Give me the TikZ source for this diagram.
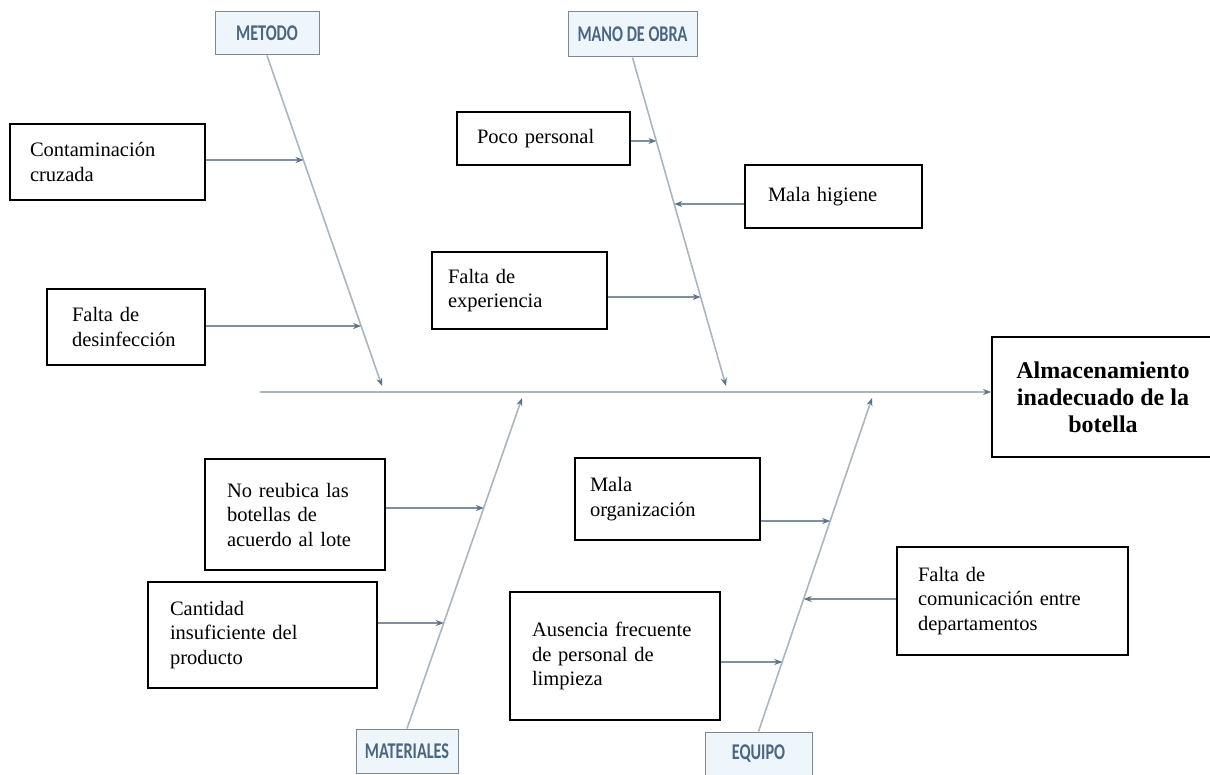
\documentclass[tikz,border=0pt]{standalone}
\usepackage{fontspec}
\setmainfont{Liberation Serif}
\newfontfamily\catfont[FakeStretch=0.72]{Carlito}
\usetikzlibrary{arrows.meta}
\definecolor{bone}{HTML}{A9B6C2}
\definecolor{causeln}{HTML}{7E90A0}
\definecolor{tipc}{HTML}{5A7388}
\definecolor{cattext}{HTML}{4A6680}
\definecolor{catborder}{HTML}{7F8890}
\definecolor{catfill}{HTML}{EEF5FB}
\begin{document}
\begin{tikzpicture}[x=1pt,y=-1pt,
  causebox/.style={draw=black, line width=1.8pt, align=left, inner ysep=0pt,
    font=\fontsize{20.5}{24.5}\selectfont},
  catbox/.style={draw=catborder, fill=catfill, line width=1pt, inner sep=0pt,
    font=\catfont\bfseries\fontsize{22.5}{24}\selectfont, text=cattext},
  effectbox/.style={draw=black, line width=1.8pt, align=center, inner sep=0pt,
    font=\bfseries\fontsize{24}{27}\selectfont},
  bonel/.style={draw=bone, line width=1.6pt, -{Stealth[length=8pt,width=6pt,color=tipc]}},
  causel/.style={draw=causeln, line width=1.6pt, -{Stealth[length=8pt,width=6pt,color=tipc]}},
]
\useasboundingbox (0,0) rectangle (1210,775);

% category boxes
\node[catbox, minimum width=104pt, minimum height=43pt] (metodo) at (267,33.5) {METODO};
\node[catbox, minimum width=129pt, minimum height=45pt] (mano) at (632.5,34.5) {MANO DE OBRA};
\node[catbox, minimum width=102pt, minimum height=44pt] (materiales) at (407,751) {MATERIALES};
\node[catbox, minimum width=107pt, minimum height=43pt] (equipo) at (758.5,753.5) {EQUIPO};

% effect
\node[effectbox, minimum width=222pt, minimum height=120pt] (effect) at (1103,397)
  {Almacenamiento\\inadecuado de la\\botella};

% bone tips
\coordinate (mt) at (382,386);
\coordinate (mat) at (726,386);
\coordinate (matt) at (522,398);
\coordinate (eqt) at (872,398);
\coordinate (sp) at (260,392);

% spine and bones
\draw[bonel] (sp) -- (effect.west |- sp);
\draw[bonel] (metodo.south) -- (mt);
\draw[bonel] (mano.south) -- (mat);
\draw[bonel] (materiales.north) -- (matt);
\draw[bonel] (equipo.north) -- (eqt);

% cause boxes
\node[causebox, inner xsep=20pt, text width=155pt, minimum height=76pt] (c1) at (107.5,162)
  {Contaminación\\cruzada};
\node[causebox, inner xsep=25pt, text width=108pt, minimum height=76pt] (c2) at (126,327)
  {Falta de\\desinfección};
\node[causebox, inner xsep=20pt, text width=133pt, minimum height=53pt] (c3) at (543.5,138.5)
  {Poco personal};
\node[causebox, inner xsep=23pt, text width=131pt, minimum height=63pt] (c4) at (833.5,196.5)
  {Mala higiene};
\node[causebox, inner xsep=16pt, text width=143pt, minimum height=77pt] (c5) at (519.5,290.5)
  {Falta de\\experiencia\\[6pt]};
\node[causebox, inner xsep=22pt, text width=136pt, minimum height=111pt] (c6) at (295,514.5)
  {No reubica las\\botellas de\\acuerdo al lote};
\node[causebox, inner xsep=22pt, text width=185pt, minimum height=106pt] (c7) at (262.5,635)
  {Cantidad\\insuficiente del\\producto};
\node[causebox, inner xsep=15pt, text width=155pt, minimum height=82pt] (c8) at (667.5,499)
  {Mala\\organización};
\node[causebox, inner xsep=21pt, text width=189pt, minimum height=108pt] (c9) at (1012.5,601)
  {Falta de\\comunicación entre\\departamentos};
\node[causebox, inner xsep=22pt, text width=166pt, minimum height=128pt] (c10) at (615,656)
  {Ausencia frecuente\\de personal de\\limpieza};

% arrow targets on bones
\coordinate (t1) at (303.5,160);
\coordinate (t2) at (361.1,326);
\coordinate (t3) at (656.4,141);
\coordinate (t4) at (674.3,204);
\coordinate (t5) at (700.7,297);
\coordinate (t6) at (483.8,508);
\coordinate (t7) at (443.8,623);
\coordinate (t8) at (830.2,521);
\coordinate (t9) at (803.7,599);
\coordinate (t10) at (782.3,662);

% cause arrows
\draw[causel] (c1.east |- t1) -- (t1);
\draw[causel] (c2.east |- t2) -- (t2);
\draw[causel] (c3.east |- t3) -- (t3);
\draw[causel] (c4.west |- t4) -- (t4);
\draw[causel] (c5.east |- t5) -- (t5);
\draw[causel] (c6.east |- t6) -- (t6);
\draw[causel] (c7.east |- t7) -- (t7);
\draw[causel] (c8.east |- t8) -- (t8);
\draw[causel] (c9.west |- t9) -- (t9);
\draw[causel] (c10.east |- t10) -- (t10);
\end{tikzpicture}
\end{document}
